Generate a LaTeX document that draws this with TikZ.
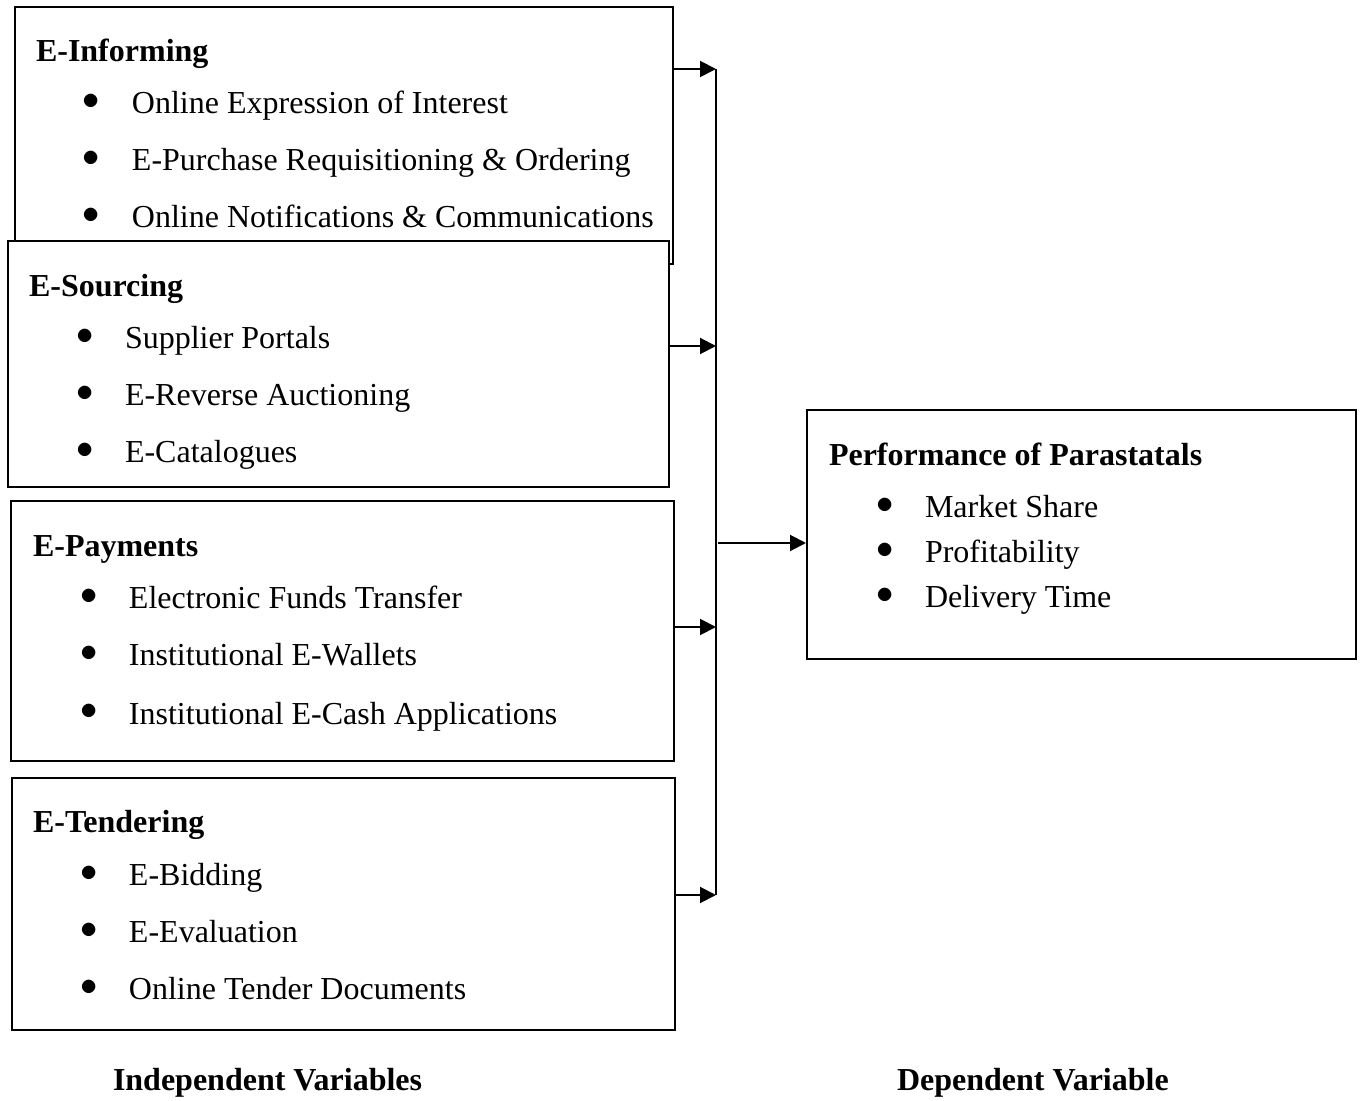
\documentclass[tikz,border=0pt]{standalone}
\usepackage{fontspec}
\setmainfont{Liberation Serif}
\usetikzlibrary{arrows.meta,fit}

\newcommand{\bul}{\makebox[24.5pt][l]{\raisebox{2pt}{$\bullet$}}}

\begin{document}
\begin{tikzpicture}[x=.5pt,y=-.5pt,line width=1pt,>={Triangle[length=8pt,width=8pt]},
        font=\fontsize{16}{19}\selectfont,
        box/.style={draw,fill=white,inner sep=0pt},
        head/.style={anchor=base west,inner sep=0pt,font=\fontsize{16}{19}\selectfont\bfseries},
        item/.style={anchor=base west,inner sep=0pt},
        bus/.style={line width=.7pt}]

        \useasboundingbox (0,0) rectangle (1361,1101);

        % independent variables
        \node[box,fit={(15,7) (673,264)}] (inf) {};
        \node[head] (infT) at (35,62) {E-Informing};
        \node[item] (inf1) at (82,114) {\bul Online Expression of Interest};
        \node[item] (inf2) at (82,171) {\bul E-Purchase Requisitioning \& Ordering};
        \node[item] (inf3) at (82,228) {\bul Online Notifications \& Communications};

        \node[box,fit={(8,241) (669,487)}] (src) {};
        \node[head] (srcT) at (28,297) {E-Sourcing};
        \node[item] (src1) at (75,349) {\bul Supplier Portals};
        \node[item] (src2) at (75,406) {\bul E-Reverse Auctioning};
        \node[item] (src3) at (75,463) {\bul E-Catalogues};

        \node[box,fit={(11,501) (674,761)}] (pay) {};
        \node[head] (payT) at (32,557) {E-Payments};
        \node[item] (pay1) at (79,609) {\bul Electronic Funds Transfer};
        \node[item] (pay2) at (79,666) {\bul Institutional E-Wallets};
        \node[item] (pay3) at (79,724) {\bul Institutional E-Cash Applications};

        \node[box,fit={(12,778) (675,1030)}] (tnd) {};
        \node[head] (tndT) at (32,832) {E-Tendering};
        \node[item] (tnd1) at (79,885) {\bul E-Bidding};
        \node[item] (tnd2) at (79,942) {\bul E-Evaluation};
        \node[item] (tnd3) at (79,999) {\bul Online Tender Documents};

        % dependent variable
        \node[box,fit={(807,410) (1356,659)}] (perf) {};
        \node[head] (perfT) at (828,466) {Performance of Parastatals};
        \node[item] (perf1) at (875,518) {\bul Market Share};
        \node[item] (perf2) at (875,563) {\bul Profitability};
        \node[item] (perf3) at (875,608) {\bul Delivery Time};

        \node[head] (indep) at (112,1090) {Independent Variables};
        \node[head] (dep) at (896,1090) {Dependent Variable};

        % connectors
        \coordinate (J1) at (716,69);
        \coordinate (J2) at (716,346);
        \coordinate (J3) at (716,627);
        \coordinate (J4) at (716,895);
        \coordinate (J0) at (718,543);

        \draw[bus] (J1) -- (J4);
        \draw[->] (inf.east |- J1) -- (J1);
        \draw[->] (src.east |- J2) -- (J2);
        \draw[->] (pay.east |- J3) -- (J3);
        \draw[->] (tnd.east |- J4) -- (J4);
        \draw[->] (J0) -- (perf.west |- J0);

\end{tikzpicture}
\end{document}
